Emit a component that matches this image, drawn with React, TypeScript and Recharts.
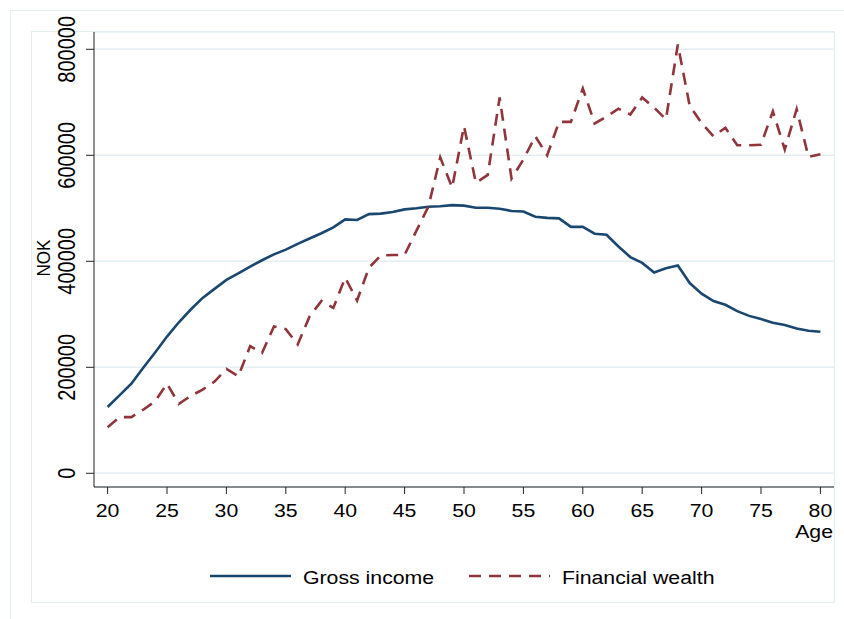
import React from "react";
import { LineChart, Line, XAxis, YAxis, CartesianGrid } from "recharts";

const AGES = [
  20, 21, 22, 23, 24, 25, 26, 27, 28, 29, 30, 31, 32, 33, 34, 35, 36, 37, 38, 39,
  40, 41, 42, 43, 44, 45, 46, 47, 48, 49, 50, 51, 52, 53, 54, 55, 56, 57, 58, 59,
  60, 61, 62, 63, 64, 65, 66, 67, 68, 69, 70, 71, 72, 73, 74, 75, 76, 77, 78, 79,
  80,
];

const GROSS_INCOME = [
  125000, 147000, 169000, 199000, 228000, 258000, 285000, 309000, 331000, 348000,
  365000, 377000, 390000, 402000, 413000, 422000, 433000, 443000, 453000, 464000,
  479000, 478000, 489000, 490000, 493000, 498000, 500000, 503000, 504000, 506000,
  505000, 501000, 501000, 499000, 495000, 494000, 484000, 482000, 481000, 465000,
  465000, 452000, 450000, 428000, 408000, 397000, 379000, 387000, 392000, 359000,
  339000, 325000, 318000, 306000, 297000, 291000, 284000, 280000, 273000, 269000,
  267000,
];

const FINANCIAL_WEALTH = [
  87000, 106000, 106000, 120000, 136000, 169000, 131000, 146000, 158000, 173000,
  197000, 183000, 240000, 227000, 277000, 272000, 243000, 296000, 325000, 312000,
  369000, 326000, 388000, 411000, 412000, 412000, 458000, 503000, 596000, 539000,
  655000, 548000, 563000, 709000, 556000, 592000, 636000, 600000, 663000, 663000,
  726000, 660000, 673000, 688000, 677000, 709000, 690000, 668000, 809000, 693000,
  661000, 636000, 652000, 619000, 619000, 620000, 683000, 611000, 687000, 597000,
  602000,
];

const X_TICKS = [20, 25, 30, 35, 40, 45, 50, 55, 60, 65, 70, 75, 80];
const Y_TICKS = [0, 200000, 400000, 600000, 800000];

const SERIES = [
  { key: "income", name: "Gross income", color: "#1a476f", dash: undefined },
  { key: "wealth", name: "Financial wealth", color: "#90353b", dash: "12 8" },
];

const data = AGES.map((age, i) => ({
  age,
  income: GROSS_INCOME[i],
  wealth: FINANCIAL_WEALTH[i],
}));

const FONT = "'Liberation Sans', Arial, Helvetica, sans-serif";
const WIDE = 1.12;
const PANEL_LINE = "#e4eded";

function XTick(props: any) {
  const { x, payload } = props;
  return (
    <text
      transform={`translate(${x},517) scale(${WIDE},1)`}
      textAnchor="middle"
      fontSize={19}
      fontFamily={FONT}
      fill="#000"
    >
      {payload.value}
    </text>
  );
}

function YTick(props: any) {
  const { y, payload } = props;
  return (
    <text
      transform={`translate(75,${y}) scale(1.2,1) rotate(-90)`}
      textAnchor="middle"
      fontSize={20}
      fontFamily={FONT}
      fill="#000"
    >
      {payload.value}
    </text>
  );
}

export default function App() {
  return (
    <div
      style={{
        position: "absolute",
        left: 0,
        top: 0,
        width: 844,
        height: 619,
        background: "#fff",
        fontFamily: FONT,
      }}
    >
      {/* outer and inner panel frames */}
      <div
        style={{
          position: "absolute",
          left: 10,
          top: 10,
          width: 834,
          height: 609,
          borderLeft: `1px solid ${PANEL_LINE}`,
          borderTop: `1px solid ${PANEL_LINE}`,
          boxSizing: "border-box",
        }}
      />
      <div
        style={{
          position: "absolute",
          left: 31,
          top: 31,
          width: 804,
          height: 572,
          border: `1px solid ${PANEL_LINE}`,
          boxSizing: "border-box",
        }}
      />

      <div style={{ position: "absolute", left: 0, top: 0 }}>
        <LineChart
          width={844}
          height={619}
          data={data}
          margin={{ top: 32, right: 10, bottom: 92, left: 34 }}
        >
          <CartesianGrid
            vertical={false}
            stroke="#e3edf2"
            strokeWidth={1.5}
          />
          <XAxis
            type="number"
            dataKey="age"
            domain={[18.855, 81.145]}
            ticks={X_TICKS}
            allowDataOverflow
            height={40}
            axisLine={{ stroke: "#222" }}
            tickLine={{ stroke: "#222" }}
            tickSize={7}
            tick={(p: any) => <XTick {...p} />}
          />
          <YAxis
            type="number"
            domain={[-25850, 832640]}
            ticks={Y_TICKS}
            allowDataOverflow
            width={60}
            axisLine={{ stroke: "#222" }}
            tickLine={{ stroke: "#222" }}
            tickSize={8}
            tick={(p: any) => <YTick {...p} />}
          />
          {SERIES.map((s) => (
            <Line
              key={s.key}
              type="linear"
              dataKey={s.key}
              name={s.name}
              stroke={s.color}
              strokeWidth={2.6}
              strokeDasharray={s.dash}
              dot={false}
              activeDot={false}
              isAnimationActive={false}
            />
          ))}
        </LineChart>
      </div>

      {/* axis titles and legend */}
      <svg
        width={844}
        height={619}
        style={{ position: "absolute", left: 0, top: 0, pointerEvents: "none" }}
      >
        <text
          transform="translate(49.5,258) scale(1.1,1) rotate(-90)"
          textAnchor="middle"
          fontSize={17}
          fontFamily={FONT}
        >
          NOK
        </text>
        <text
          transform={`translate(833,538) scale(${WIDE},1)`}
          textAnchor="end"
          fontSize={19}
          fontFamily={FONT}
        >
          Age
        </text>
        {SERIES.map((s, i) => {
          const x0 = i === 0 ? 210 : 469;
          return (
            <g key={s.key}>
              <line
                x1={x0}
                x2={x0 + 81}
                y1={576}
                y2={576}
                stroke={s.color}
                strokeWidth={2.6}
                strokeDasharray={s.dash}
              />
              <text
                transform={`translate(${x0 + 93},584) scale(${WIDE},1)`}
                fontSize={19}
                fontFamily={FONT}
              >
                {s.name}
              </text>
            </g>
          );
        })}
      </svg>
    </div>
  );
}
